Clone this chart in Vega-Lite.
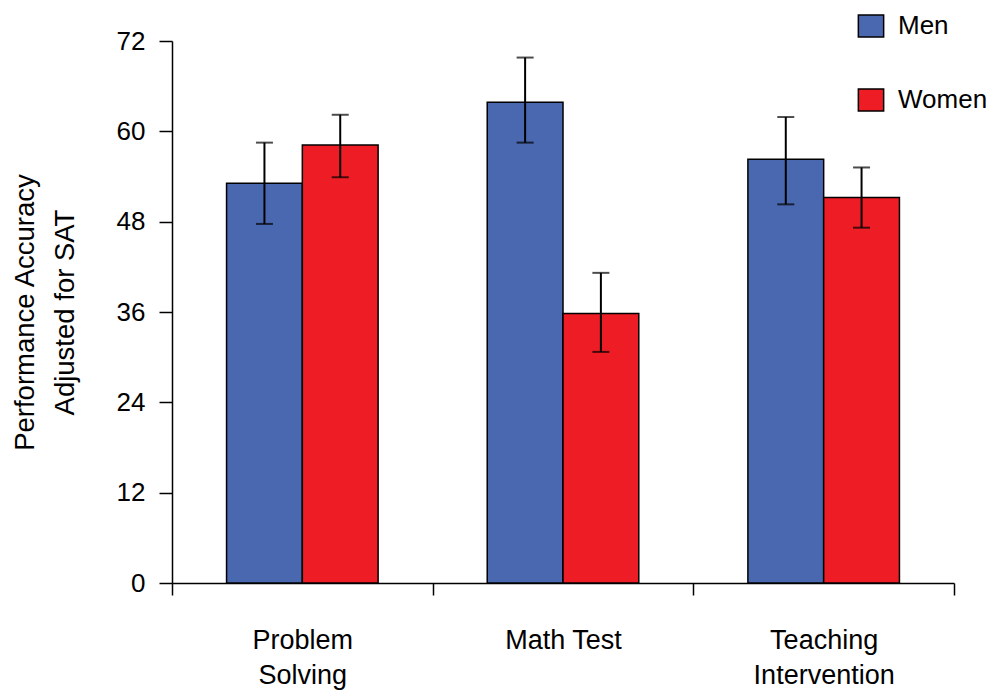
{
  "$schema": "https://vega.github.io/schema/vega-lite/v6.json",
  "autosize": {"type": "none"},
  "padding": {"left": 172, "top": 41, "right": 37, "bottom": 107},
  "width": 782,
  "height": 542,
  "background": "white",
  "config": {
    "font": "Liberation Sans",
    "view": {"stroke": null},
    "axis": {"grid": false, "domainColor": "black", "tickColor": "black", "labelColor": "black", "titleColor": "black", "domainWidth": 1.5, "tickWidth": 1.5}
  },
  "data": {
    "values": [
      {"task": "Problem Solving", "gender": "Men", "value": 53.1, "lo": 47.7, "hi": 58.5},
      {"task": "Problem Solving", "gender": "Women", "value": 58.2, "lo": 53.9, "hi": 62.2},
      {"task": "Math Test", "gender": "Men", "value": 63.85, "lo": 58.5, "hi": 69.8},
      {"task": "Math Test", "gender": "Women", "value": 35.8, "lo": 30.7, "hi": 41.2},
      {"task": "Teaching Intervention", "gender": "Men", "value": 56.3, "lo": 50.3, "hi": 61.9},
      {"task": "Teaching Intervention", "gender": "Women", "value": 51.2, "lo": 47.2, "hi": 55.2}
    ]
  },
  "encoding": {
    "x": {
      "field": "task", "type": "nominal", "sort": null,
      "scale": {"domain": ["Problem Solving", "Math Test", "Teaching Intervention"], "paddingInner": 0, "paddingOuter": 0},
      "axis": {
        "title": null, "labelAngle": 0, "tickBand": "extent", "tickSize": 12,
        "labelFontSize": 27, "labelPadding": 32, "labelBaseline": "top", "labelLineHeight": 35,
        "labelExpr": "datum.label == 'Math Test' ? 'Math Test' : split(datum.label, ' ')"
      }
    },
    "xOffset": {"field": "gender", "type": "nominal", "scale": {"domain": ["Men", "Women"], "paddingInner": 0, "paddingOuter": 0.72}}
  },
  "layer": [
    {
      "mark": {"type": "bar", "stroke": "black", "strokeWidth": 1.5},
      "encoding": {
        "y": {
          "field": "value", "type": "quantitative",
          "scale": {"domain": [0, 72], "nice": false},
          "axis": {
            "values": [0, 12, 24, 36, 48, 60, 72], "tickSize": 13, "labelFontSize": 26, "labelPadding": 14,
            "title": ["Performance Accuracy", "Adjusted for SAT"], "titleFontSize": 27.5, "titleFontWeight": "normal",
            "titleLineHeight": 40, "titlePadding": 37
          }
        },
        "color": {
          "field": "gender", "type": "nominal",
          "scale": {"domain": ["Men", "Women"], "range": ["#4A68B0", "#EE1D25"]},
          "legend": {
            "title": null, "orient": "none", "legendX": 686, "legendY": -28,
            "symbolType": "M-1.15,-1L1.15,-1L1.15,1L-1.15,1Z", "symbolSize": 484,
            "symbolStrokeColor": "black", "symbolStrokeWidth": 1.5,
            "labelFontSize": 26, "labelOffset": 14, "rowPadding": 46, "labelColor": "black"
          }
        }
      }
    },
    {
      "mark": {"type": "rule", "color": "black", "strokeWidth": 2},
      "encoding": {
        "y": {"field": "lo", "type": "quantitative"},
        "y2": {"field": "hi"}
      }
    },
    {
      "mark": {"type": "tick", "color": "black", "size": 17, "thickness": 2},
      "encoding": {"y": {"field": "lo", "type": "quantitative"}}
    },
    {
      "mark": {"type": "tick", "color": "black", "size": 17, "thickness": 2},
      "encoding": {"y": {"field": "hi", "type": "quantitative"}}
    }
  ]
}
